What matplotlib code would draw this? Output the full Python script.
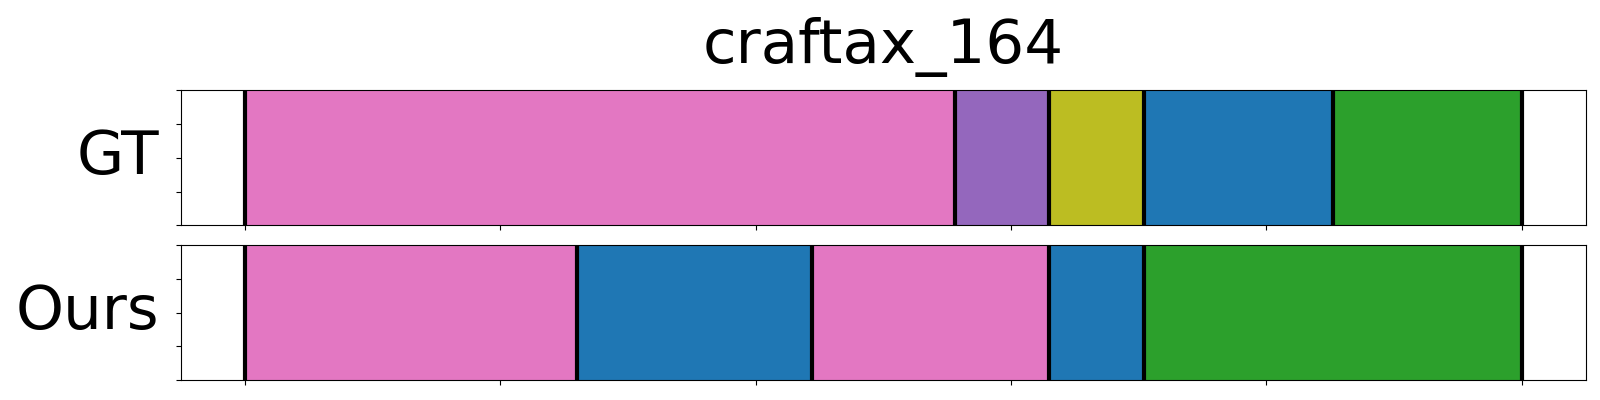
import matplotlib
matplotlib.use("Agg")
import matplotlib.pyplot as plt

title = "craftax_164"
row_labels = ["GT", "Ours"]

# segment boundaries (frame index) and the colour of each segment
gt_bounds = [0, 278, 315, 352, 426, 500]
gt_colors = ["tab:pink", "tab:purple", "tab:olive", "tab:blue", "tab:green"]
ours_bounds = [0, 130, 222, 315, 352, 500]
ours_colors = ["tab:pink", "tab:blue", "tab:pink", "tab:blue", "tab:green"]

xticks = [0, 100, 200, 300, 400, 500]
yticks = [0, 0.25, 0.5, 0.75, 1.0]


def draw_row(ax, bounds, colors, label):
    for i, c in enumerate(colors):
        ax.axvspan(bounds[i], bounds[i + 1], color=c)
    for b in bounds:
        ax.axvline(b, color="black", linewidth=3)
    ax.set_ylim(0, 1)
    ax.set_xticks(xticks)
    ax.set_yticks(yticks)
    ax.set_xticklabels([])
    ax.set_yticklabels([])
    ax.set_ylabel(label, rotation=0, fontsize=44, ha="right", va="center", labelpad=9)


fig = plt.figure(figsize=(16, 4), dpi=100)
ax1 = fig.add_axes([0.1133, 0.437, 0.8777, 0.337])
ax2 = fig.add_axes([0.1133, 0.05, 0.8777, 0.337])

draw_row(ax1, gt_bounds, gt_colors, row_labels[0])
draw_row(ax2, ours_bounds, ours_colors, row_labels[1])
ax1.set_title(title, fontsize=44, pad=20)

fig.savefig("out.png", dpi=100)
